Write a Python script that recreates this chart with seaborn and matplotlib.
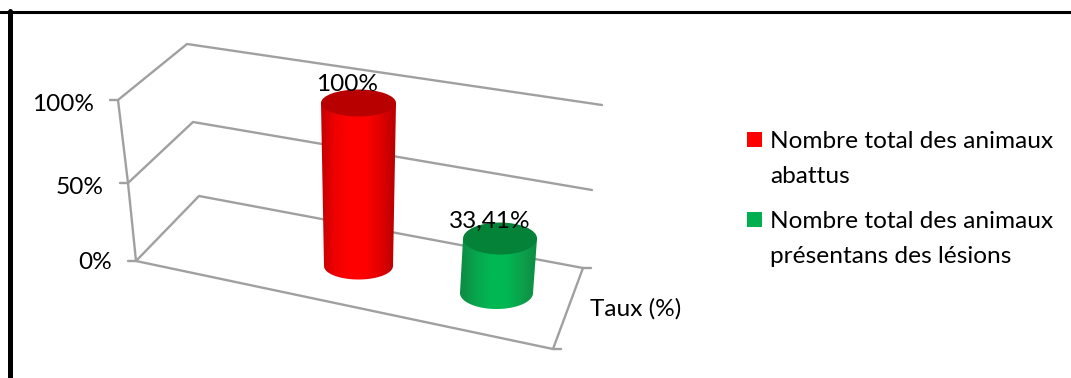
import numpy as np
import pandas as pd
import matplotlib
matplotlib.use("Agg")
import matplotlib.pyplot as plt
from matplotlib.patches import Ellipse, PathPatch, Patch, Rectangle
from matplotlib.path import Path
from matplotlib.colors import LinearSegmentedColormap
from matplotlib.legend_handler import HandlerPatch
import seaborn as sns

# ---- data ----
categories = ["Nombre total des animaux\nabattus",
              "Nombre total des animaux\nprésentans des lésions"]
values = [100, 33.41]
value_labels = ["100%", "33,41%"]
tick_values = [0, 50, 100]
tick_labels = ["0%", "50%", "100%"]
axis_label = "Taux (%)"

# ---- styles / layout (pixel space of the 3-D projection) ----
W, H = 1071, 378
FONT = "Lato"
FS = 17.6
GREY = "#a0a0a0"
side_colors = [["#c40000", "#f20000", "#ff0000", "#ff0000", "#e00000", "#b80000"],
               ["#0d8a42", "#08a54d", "#00b853", "#00b853", "#0ca04b", "#0d8a42"]]
top_colors = ["#b90000", "#048238"]
legend_colors = ["#ff0000", "#00b050"]

wall_front = {0: (136, 261), 50: (128, 183), 100: (118, 100)}
wall_back = {0: (199, 196), 50: (193, 122), 100: (187, 44)}
wall_right = {0: (583, 268), 50: (592, 190), 100: (602, 105)}
floor_front_right = (553, 349)

base_centres = [(358.5, 266), (496.5, 293)]
base_widths = [69, 73]
top_widths = [75, 74]
ellipse_heights = [27, 32]
px_per_unit = 1.63
lean = [0.0, 0.065]

sns.set_theme(style="white")
plt.rcParams["font.family"] = [FONT, "DejaVu Sans"]

fig = plt.figure(figsize=(W / 100, H / 100), dpi=100, facecolor="white")
ax = fig.add_axes([0, 0, 1, 1])

# ---- walls and floor ----
rows = []
def seg(name, *pts):
    for p in pts:
        rows.append({"seg": name, "x": p[0], "y": p[1]})

for t in tick_values:
    f, b, r = wall_front[t], wall_back[t], wall_right[t]
    seg(f"grid{t}", (f[0] - 8, f[1]), f, b, r)
seg("edge", wall_front[100], wall_front[50], wall_front[0], floor_front_right, wall_right[0])
seg("stub1", wall_right[0], (wall_right[0][0] + 8, wall_right[0][1]))
seg("stub2", floor_front_right, (floor_front_right[0] + 8, floor_front_right[1]))
lines = pd.DataFrame(rows)
sns.lineplot(data=lines, x="x", y="y", units="seg", estimator=None, sort=False,
             color=GREY, linewidth=1.7, ax=ax, legend=False, zorder=1)

# ---- cylinders ----
for i, v in enumerate(values):
    cx0, cy0 = base_centres[i]
    h = v * px_per_unit
    cx1, cy1 = cx0 + h * lean[i], cy0 - h
    w0, w1, eh = base_widths[i], top_widths[i], ellipse_heights[i]
    th = np.linspace(np.pi, 0, 60)
    arc = np.column_stack([cx0 + (w0 / 2) * np.cos(th), cy0 + (eh / 2) * np.sin(th)])
    verts = np.vstack([[cx1 - w1 / 2, cy1], arc, [cx1 + w1 / 2, cy1], [cx1 - w1 / 2, cy1]])
    path = Path(verts)
    patch = PathPatch(path, transform=ax.transData, fc="none", ec="none")
    ax.add_patch(patch)
    cmap = LinearSegmentedColormap.from_list(f"c{i}", side_colors[i])
    left = min(cx0 - w0 / 2, cx1 - w1 / 2)
    right = max(cx0 + w0 / 2, cx1 + w1 / 2)
    im = ax.imshow(np.linspace(0, 1, 256)[None, :], cmap=cmap, aspect="auto",
                   extent=[left, right, cy0 + eh, cy1], zorder=2, interpolation="bilinear")
    im.set_clip_path(patch)
    ax.add_patch(Ellipse((cx1, cy1), w1, eh, fc=top_colors[i], ec="none", zorder=3))

# ---- text ----
ax.set_xlim(0, W)
ax.set_ylim(H, 0)
ax.axis("off")

for t, lab in zip(tick_values, tick_labels):
    f = wall_front[t]
    ax.text(f[0] - 24, f[1] + 11 - (t == 0) * 3, lab, ha="right", va="baseline",
            fontsize=FS, color="black", zorder=5)

ax.text(347, 91, value_labels[0], ha="center", va="baseline", fontsize=FS, color="black", zorder=5)
ax.text(490, 228, value_labels[1], ha="center", va="baseline", fontsize=FS, color="black", zorder=5)
ax.text(590, 316, axis_label, ha="left", va="baseline", fontsize=FS, color="black", zorder=5)

# ---- legend ----
def top_square(legend, orig_handle, xdescent, ydescent, width, height, fontsize):
    return Rectangle((0, 14.8), 10.8, 10.8)

handles = [Patch(fc=c, ec="none", label=l) for c, l in zip(legend_colors, categories)]
leg = ax.legend(handles=handles, loc="upper left", bbox_to_anchor=(747 / W, 1 - 131 / H),
                frameon=False, fontsize=FS, handlelength=0.62, handleheight=0.62,
                handletextpad=0.32, labelspacing=1.0, borderpad=0, borderaxespad=0,
                labelcolor="black",
                handler_map={Patch: HandlerPatch(patch_func=top_square)})
for txt in leg.get_texts():
    txt.set_linespacing(1.8)

# ---- outer frame, visible on top and left only ----
ax.plot([0.0, 1.0], [1 - 11.5 / H] * 2, transform=ax.transAxes, color="black", lw=2.2, zorder=6, clip_on=False)
ax.plot([9.5 / W] * 2, [0.0, 1 - 10.5 / H], transform=ax.transAxes, color="black", lw=3.6, zorder=6, clip_on=False)

fig.savefig("out.png", dpi=100, facecolor="white")
